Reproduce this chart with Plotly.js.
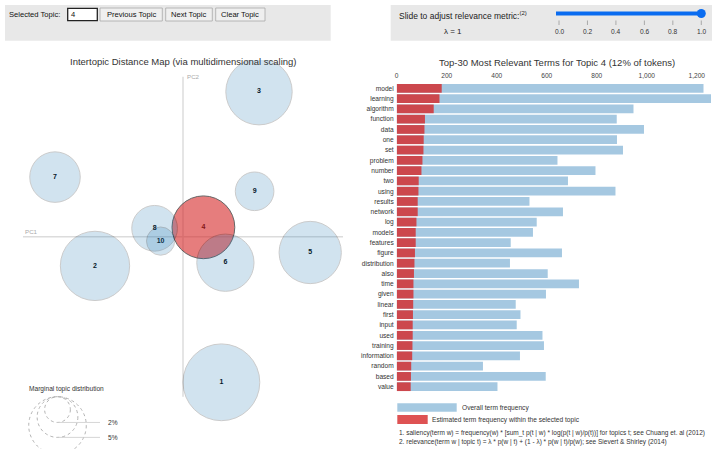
<!DOCTYPE html>
<html><head><meta charset="utf-8">
<script src="https://cdn.plot.ly/plotly-3.0.1.min.js"></script>
<style>html,body{margin:0;padding:0;background:#fff;overflow:hidden}#chart{width:721px;height:449px}</style>
</head><body><div id="chart"></div>
<script>
// ---------- data ----------
const topicIds = [1, 2, 3, 4, 5, 6, 7, 8, 9, 10];
const topicX = [0.096, -0.22, 0.19, 0.051, 0.318, 0.106, -0.32, -0.071, 0.179, -0.056];
const topicY = [-0.364, -0.073, 0.3625, 0.0235, -0.0395, -0.065, 0.149, 0.021, 0.1135, -0.011];
const topicPct = [17.8, 14.5, 13.3, 11.9, 11.7, 9.9, 7.7, 6.3, 4.5, 2.4];
const selectedTopic = 4;
const legendPct = [2, 5, 10];
const legendLabelPct = [2, 5];

const terms = ["model","learning","algorithm","function","data","one","set","problem","number","two",
  "using","results","network","log","models","features","figure","distribution","also","time",
  "given","linear","first","input","used","training","information","random","based","value"];
const termTotal = [1227, 1257, 947, 880, 989, 881, 905, 643, 795, 685,
  875, 531, 665, 560, 545, 456, 661, 453, 604, 729,
  597, 476, 495, 480, 583, 589, 493, 345, 596, 403];
const termTopic = [180, 171, 148, 113, 111, 108, 107, 103, 99, 88,
  87, 84, 84, 79, 76, 76, 73, 71, 69, 67,
  67, 66, 65, 64, 64, 63, 62, 58, 57, 56];
const barTicks = [0, 200, 400, 600, 800, 1000, 1200];
const lambdaTicks = [0, 0.2, 0.4, 0.6, 0.8, 1.0];
const lambdaValue = 1;

// ---------- helpers ----------
const W = 721, H = 449;
const P = x => x / W;
const Q = y => 1 - y / H;
const FONT = "Liberation Sans, Arial, sans-serif";
const PXU = 400;        // px per MDS unit
const RK = 9.1;         // px radius per sqrt(%)
const rad = pct => RK * Math.sqrt(pct) / PXU;

const shapes = [];
const annotations = [];

// UI panels
shapes.push({type:'rect', xref:'paper', yref:'paper', x0:P(5), x1:P(330.7), y0:Q(40.7), y1:Q(5), fillcolor:'#e8e8e8', line:{width:0}, layer:'below'});
shapes.push({type:'rect', xref:'paper', yref:'paper', x0:P(390.7), x1:P(712), y0:Q(40.7), y1:Q(5), fillcolor:'#e8e8e8', line:{width:0}, layer:'below'});
// input box
shapes.push({type:'rect', xref:'paper', yref:'paper', x0:P(67.7), x1:P(97.3), y0:Q(20.7), y1:Q(8.3), fillcolor:'#ffffff', line:{color:'#222', width:1.3}});
annotations.push({xref:'paper', yref:'paper', x:P(7), y:Q(14.5), xanchor:'left', yanchor:'middle', text:'Selected Topic:', showarrow:false, font:{size:7.6, color:'#111'}});
annotations.push({xref:'paper', yref:'paper', x:P(69), y:Q(14.5), xanchor:'left', yanchor:'middle', text:String(selectedTopic), showarrow:false, font:{size:7.6, color:'#111'}});
// buttons
const buttons = [["Previous Topic", 100, 162.3], ["Next Topic", 165.7, 212.3], ["Clear Topic", 215.7, 265]];
buttons.forEach(b => {
  shapes.push({type:'rect', xref:'paper', yref:'paper', x0:P(b[1]), x1:P(b[2]), y0:Q(21), y1:Q(8), fillcolor:'#efefef', line:{color:'#a8a8a8', width:0.8}});
  annotations.push({xref:'paper', yref:'paper', x:P((b[1]+b[2])/2), y:Q(14.5), xanchor:'center', yanchor:'middle', text:b[0], showarrow:false, font:{size:7.6, color:'#111'}});
});
// slider
annotations.push({xref:'paper', yref:'paper', x:P(396.5), y:Q(15.5), xanchor:'left', yanchor:'middle', text:'Slide to adjust relevance metric:<sup>(2)</sup>', showarrow:false, font:{size:8.5, color:'#222'}});
annotations.push({xref:'paper', yref:'paper', x:P(453), y:Q(31.3), xanchor:'center', yanchor:'middle', text:'λ = ' + lambdaValue, showarrow:false, font:{size:8, color:'#222'}});
const sx0 = 559, sx1 = 701.3;
shapes.push({type:'line', xref:'paper', yref:'paper', x0:P(556), x1:P(sx0 + lambdaValue*(sx1-sx0)), y0:Q(13.5), y1:Q(13.5), line:{color:'#0a6cf0', width:4}});
shapes.push({type:'circle', xref:'paper', yref:'paper', x0:P(sx1-4.5), x1:P(sx1+4.5), y0:Q(18), y1:Q(9), fillcolor:'#0a6cf0', line:{width:0}});
lambdaTicks.forEach(t => {
  const px = sx0 + t*(sx1-sx0);
  shapes.push({type:'line', xref:'paper', yref:'paper', x0:P(px), x1:P(px), y0:Q(20.5), y1:Q(25), line:{color:'#999', width:0.8}});
  annotations.push({xref:'paper', yref:'paper', x:P(px), y:Q(31.3), xanchor:'center', yanchor:'middle', text:t.toFixed(1), showarrow:false, font:{size:6.6, color:'#333'}});
});

// titles
annotations.push({xref:'paper', yref:'paper', x:P(183), y:Q(61.7), xanchor:'center', yanchor:'middle', text:'Intertopic Distance Map (via multidimensional scaling)', showarrow:false, font:{size:9.5, color:'#333'}});
const selPct = Math.round(topicPct[selectedTopic-1]);
annotations.push({xref:'paper', yref:'paper', x:P(557), y:Q(62.3), xanchor:'center', yanchor:'middle', text:'Top-30 Most Relevant Terms for Topic ' + selectedTopic + ' (' + selPct + '% of tokens)', showarrow:false, font:{size:9.5, color:'#333'}});

// PC axes lines
shapes.push({type:'line', xref:'x', yref:'y', x0:-0.4, x1:0.4, y0:0, y1:0, line:{color:'#dcdcdc', width:1.5}, layer:'below'});
shapes.push({type:'line', xref:'x', yref:'y', x0:0, x1:0, y0:-0.4, y1:0.4, line:{color:'#dcdcdc', width:1.5}, layer:'below'});
annotations.push({xref:'x', yref:'y', x:-0.4, y:0, xanchor:'left', yanchor:'bottom', text:'PC1', showarrow:false, font:{size:6.2, color:'#aaa'}});
annotations.push({xref:'x', yref:'y', x:0.004, y:0.4, xanchor:'left', yanchor:'middle', text:'PC2', showarrow:false, font:{size:6.2, color:'#aaa'}});

// topic circles
topicIds.forEach((id, i) => {
  const r = rad(topicPct[i]);
  const sel = id === selectedTopic;
  shapes.push({type:'circle', xref:'x', yref:'y', x0:topicX[i]-r, x1:topicX[i]+r, y0:topicY[i]-r, y1:topicY[i]+r,
    fillcolor: sel ? '#d62728' : '#1f77b4', line:{color:'#000', width:1}, opacity: sel ? 0.6 : 0.2, layer:'above'});
});

// marginal distribution legend
const lcx = -0.31375, ltop = -0.4;
annotations.push({xref:'x', yref:'y', x:lcx + 0.023, y:ltop + 0.02, xanchor:'center', yanchor:'middle', text:'Marginal topic distribution', showarrow:false, font:{size:6.6, color:'#333'}});
legendPct.forEach(p => {
  const r = rad(p);
  shapes.push({type:'circle', xref:'x', yref:'y', x0:lcx-r, x1:lcx+r, y0:ltop-2*r, y1:ltop, line:{color:'#aaa', width:0.9, dash:'dot'}, fillcolor:'rgba(0,0,0,0)', layer:'above'});
});
legendLabelPct.forEach(p => {
  const r = rad(p);
  const yb = ltop - 2*r;
  shapes.push({type:'line', xref:'x', yref:'y', x0:lcx, x1:-0.2075, y0:yb, y1:yb, line:{color:'#ccc', width:0.8}});
  annotations.push({xref:'x', yref:'y', x:-0.1915, y:yb, xanchor:'left', yanchor:'middle', text:p + '%', showarrow:false, font:{size:6.6, color:'#333'}});
});

// bar legend and footnotes
shapes.push({type:'rect', xref:'paper', yref:'paper', x0:P(397.3), x1:P(456.7), y0:Q(411.7), y1:Q(403.3), fillcolor:'#1f77b4', opacity:0.4, line:{width:0}});
shapes.push({type:'rect', xref:'paper', yref:'paper', x0:P(397.3), x1:P(427.7), y0:Q(424), y1:Q(415), fillcolor:'#d62728', opacity:0.8, line:{width:0}});
annotations.push({xref:'paper', yref:'paper', x:P(459.5), y:Q(407.5), xanchor:'left', yanchor:'middle', text:'Overall term frequency', showarrow:false, font:{size:6.6, color:'#333'}});
annotations.push({xref:'paper', yref:'paper', x:P(430), y:Q(419.5), xanchor:'left', yanchor:'middle', text:'Estimated term frequency within the selected topic', showarrow:false, font:{size:6.6, color:'#333'}});
annotations.push({xref:'paper', yref:'paper', x:P(396.5), y:Q(432.7), xanchor:'left', yanchor:'middle', text:'1. saliency(term w) = frequency(w) * [sum_t p(t | w) * log(p(t | w)/p(t))] for topics t; see Chuang et. al (2012)', showarrow:false, font:{size:6.5, color:'#333'}});
annotations.push({xref:'paper', yref:'paper', x:P(396.5), y:Q(441.7), xanchor:'left', yanchor:'middle', text:'2. relevance(term w | topic t) = λ * p(w | t) + (1 - λ) * p(w | t)/p(w); see Sievert &amp; Shirley (2014)', showarrow:false, font:{size:6.5, color:'#333'}});

// ---------- traces ----------
const traces = [
  {type:'scatter', mode:'text', x:topicX, y:topicY, text:topicIds.map(String), xaxis:'x', yaxis:'y',
   textfont:{size:7, color:'#000', weight:'bold'}, cliponaxis:false, hoverinfo:'none', showlegend:false},
  {type:'bar', orientation:'h', x:termTotal, y:terms, xaxis:'x2', yaxis:'y2', name:'Overall term frequency',
   marker:{color:'#1f77b4', line:{width:0}}, opacity:0.4, showlegend:false, hoverinfo:'none'},
  {type:'bar', orientation:'h', x:termTopic, y:terms, xaxis:'x2', yaxis:'y2', name:'Estimated term frequency within the selected topic',
   marker:{color:'#d62728', line:{width:0}}, opacity:0.8, showlegend:false, hoverinfo:'none'}
];

const layout = {
  width: W, height: H,
  margin:{l:0, r:0, t:0, b:0},
  paper_bgcolor:'#fff', plot_bgcolor:'rgba(0,0,0,0)',
  font:{family:FONT, color:'#333'},
  showlegend:false,
  barmode:'overlay', bargap:0.15,
  xaxis:{domain:[0, P(360)], range:[-0.4575, 0.4425], visible:false, fixedrange:true},
  yaxis:{domain:[0, Q(60)], range:[-0.53075, 0.44175], visible:false, fixedrange:true},
  xaxis2:{domain:[P(396.7), P(711)], range:[0, 1257], anchor:'y2', side:'top',
    tickvals:barTicks, ticktext:barTicks.map(v => v.toLocaleString('en-US')),
    showgrid:false, zeroline:false, showline:false, ticks:'outside', ticklen:2, tickcolor:'rgba(0,0,0,0)',
    tickfont:{size:6.6, color:'#444'}, fixedrange:true},
  yaxis2:{domain:[Q(391.85), Q(83.15)], anchor:'x2', type:'category', categoryorder:'array', categoryarray:terms,
    range:[29.5, -0.5], showgrid:false, zeroline:false, showline:false, ticks:'', ticklabelstandoff:2,
    tickfont:{size:6.6, color:'#333'}, fixedrange:true},
  shapes: shapes,
  annotations: annotations
};

Plotly.newPlot('chart', traces, layout, {displayModeBar:false, staticPlot:true});
</script>
</body></html>
